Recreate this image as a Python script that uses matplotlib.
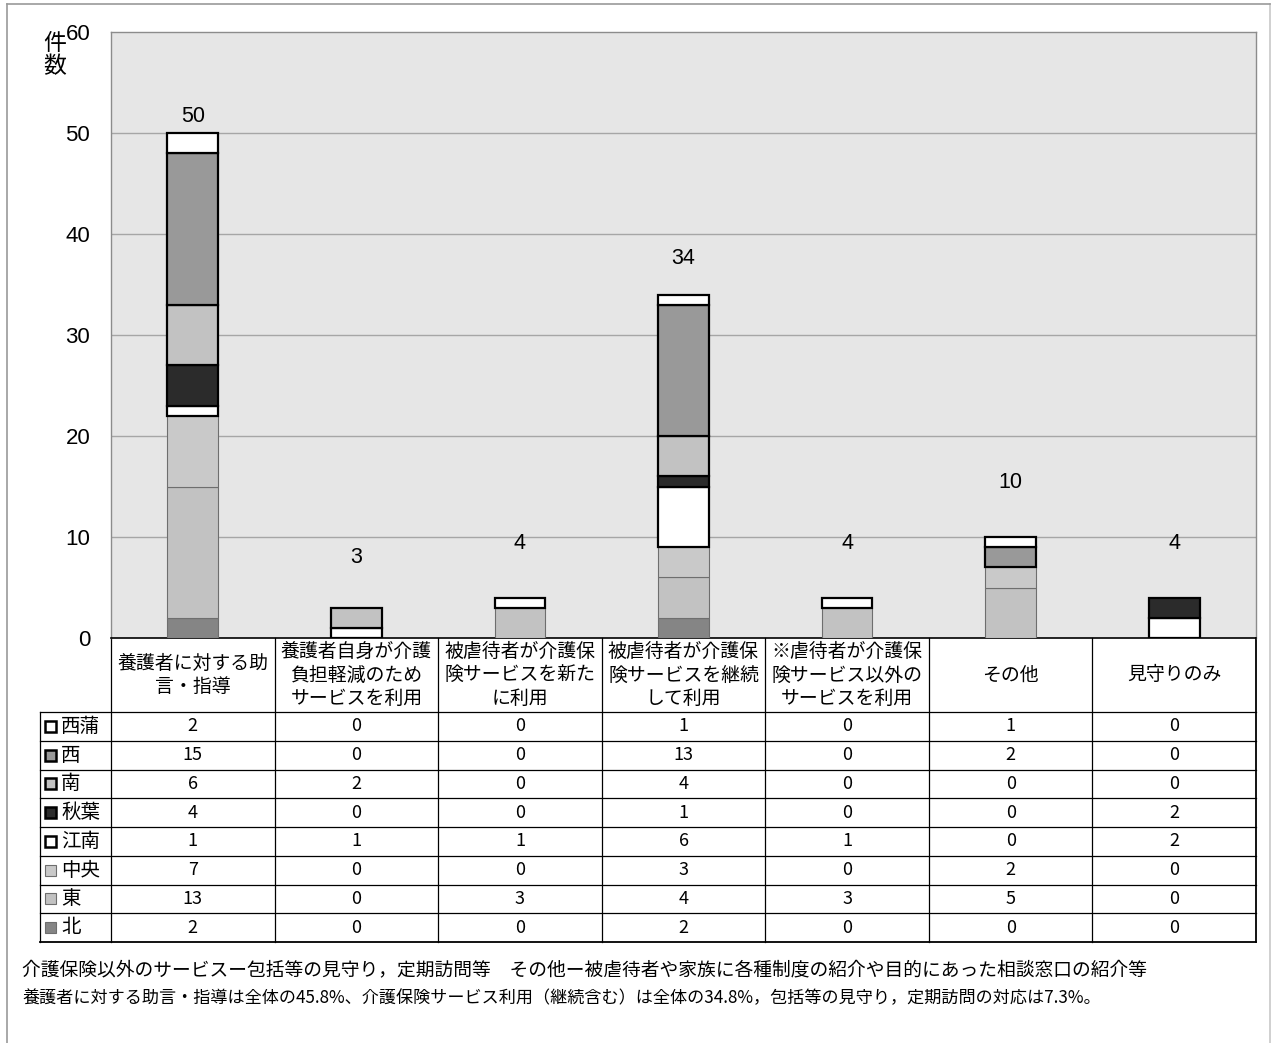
import numpy as np
import matplotlib.pyplot as plt
import matplotlib.transforms as mtransforms
from matplotlib.lines import Line2D
from matplotlib.patches import Rectangle

plt.rcParams['font.family'] = ['Noto Sans CJK JP', 'DejaVu Sans']

##------DATA------------------------------------------------------------
categories = ['養護者に対する助\n言・指導',
              '養護者自身が介護\n負担軽減のため\nサービスを利用',
              '被虐待者が介護保\n険サービスを新た\nに利用',
              '被虐待者が介護保\n険サービスを継続\nして利用',
              '※虐待者が介護保\n険サービス以外の\nサービスを利用',
              'その他',
              '見守りのみ']

# table order (top to bottom)
districts = ['西蒲', '西', '南', '秋葉', '江南', '中央', '東', '北']
nishikan = [2, 0, 0, 1, 0, 1, 0]
nishi = [15, 0, 0, 13, 0, 2, 0]
minami = [6, 2, 0, 4, 0, 0, 0]
akiha = [4, 0, 0, 1, 0, 0, 2]
konan = [1, 1, 1, 6, 1, 0, 2]
chuo = [7, 0, 0, 3, 0, 2, 0]
higashi = [13, 0, 3, 4, 3, 5, 0]
kita = [2, 0, 0, 2, 0, 0, 0]
values = [nishikan, nishi, minami, akiha, konan, chuo, higashi, kita]

notes = ['介護保険以外のサービスー包括等の見守り，定期訪問等　その他ー被虐待者や家族に各種制度の紹介や目的にあった相談窓口の紹介等',
         '養護者に対する助言・指導は全体の45.8%、介護保険サービス利用（継続含む）は全体の34.8%，包括等の見守り，定期訪問の対応は7.3%。']

##------STYLES----------------------------------------------------------
face = ['#ffffff', '#999999', '#c2c2c2', '#2b2b2b', '#ffffff', '#c9c9c9', '#c2c2c2', '#858585']
thick = [True, True, True, True, True, False, False, False]
label_y = [51.6, 8.0, 9.4, 37.6, 9.4, 15.4, 9.4]   # where the totals sit

##------FIGURE----------------------------------------------------------
W, H = 1273, 1043
fig = plt.figure(figsize=(W / 100, H / 100), dpi=100)
ax = fig.add_axes([111 / W, 1 - 638 / H, (1256 - 111) / W, (638 - 32) / H])
ax.set_facecolor('#e6e6e6')

x = np.arange(len(categories))
bottom = np.zeros(len(categories))
# stack from the bottom row of the table upward; thin-edged first so thick edges overlay
order = list(range(len(districts)))[::-1]
for i in order:
    v = np.array(values[i], dtype=float)
    m = v > 0
    if thick[i]:
        ax.bar(x[m], v[m], 0.31, bottom=bottom[m], color=face[i], edgecolor='black',
               linewidth=1.6, zorder=4)
    else:
        ax.bar(x[m], v[m], 0.31, bottom=bottom[m], color=face[i], edgecolor='#6e6e6e',
               linewidth=0.8, zorder=3)
    bottom += v

totals = bottom
for xi, t, ly in zip(x, totals, label_y):
    ax.text(xi, ly, f'{int(t)}', ha='center', va='center', fontsize=15.5,
            family=['Liberation Sans', 'DejaVu Sans'])

ax.set_xlim(-0.5, len(categories) - 0.5)
ax.set_ylim(0, 60)
ax.set_yticks(range(0, 61, 10))
ax.set_yticklabels([str(t) for t in range(0, 61, 10)], family=['Liberation Sans', 'DejaVu Sans'],
                   fontsize=16)
ax.tick_params(axis='y', length=0, pad=15)
ax.set_xticks([])
for yv in range(10, 60, 10):
    ax.axhline(yv, color='#a6a6a6', lw=1.0, zorder=1)
for s in ['top', 'left', 'right']:
    ax.spines[s].set_color('#8c8c8c')
    ax.spines[s].set_linewidth(1.0)
ax.spines['bottom'].set_color('black')
ax.spines['bottom'].set_linewidth(1.2)

fig.text(55 / W, 1 - 55 / H, '件\n数', fontsize=16.5, ha='center', va='center', linespacing=1.05)

##------DATA TABLE------------------------------------------------------
trans = mtransforms.blended_transform_factory(ax.transData, ax.transAxes)
col_px = 1145 / len(categories)


def ay(py):
    return (638 - py) / 606


x_left = -0.5 - (111 - 40) / col_px
x_right = len(categories) - 0.5
head_bot = 712
row_h = (942 - 712) / len(districts)
row_edges = [head_bot + k * row_h for k in range(len(districts) + 1)]


def hline(x0, x1, py, lw=1.0, c='black'):
    ax.add_line(Line2D([x0, x1], [ay(py), ay(py)], transform=trans, color=c, lw=lw, clip_on=False))


def vline(xd, py0, py1, lw=1.0, c='black'):
    ax.add_line(Line2D([xd, xd], [ay(py0), ay(py1)], transform=trans, color=c, lw=lw, clip_on=False))


for k, py in enumerate(row_edges):
    hline(x_left, x_right, py, lw=1.3 if k == len(row_edges) - 1 else 0.9)
for k in range(len(categories) + 1):
    vline(k - 0.5, 638, 942, lw=1.3 if k == len(categories) else 0.9)
vline(x_left, head_bot, 942, lw=0.9)

for j, cat in enumerate(categories):
    ax.text(j, ay(675), cat, transform=trans, ha='center', va='center', fontsize=13.6,
            linespacing=1.15, clip_on=False)

for i, name in enumerate(districts):
    yc = ay(row_edges[i] + row_h / 2)
    # legend key square
    ax.add_patch(Rectangle((x_left + 5 / col_px, yc - 5.5 / 606), 11 / col_px, 11 / 606,
                           transform=trans, facecolor=face[i],
                           edgecolor='black' if thick[i] else '#6e6e6e',
                           lw=1.8 if thick[i] else 0.8, clip_on=False))
    ax.text(x_left + 21 / col_px, yc, name, transform=trans, ha='left', va='center',
            fontsize=14, clip_on=False)
    for j, v in enumerate(values[i]):
        ax.text(j, yc, str(v), transform=trans, ha='center', va='center', fontsize=13,
                clip_on=False)

##------NOTES AND FRAME-------------------------------------------------
fig.text(22 / W, 1 - 970 / H, notes[0], fontsize=13.5, ha='left', va='center')
fig.text(22 / W, 1 - 998 / H, notes[1], fontsize=12.3, ha='left', va='center')

fig.add_artist(Line2D([7 / W, 7 / W], [0, 1 - 4 / H], color='#9a9a9a', lw=1.2))
fig.add_artist(Line2D([1270 / W, 1270 / W], [0, 1 - 4 / H], color='#c8c8c8', lw=1.2))
fig.add_artist(Line2D([7 / W, 1270 / W], [1 - 4 / H, 1 - 4 / H], color='#9a9a9a', lw=1.2))

fig.savefig('out.png', dpi=100)
